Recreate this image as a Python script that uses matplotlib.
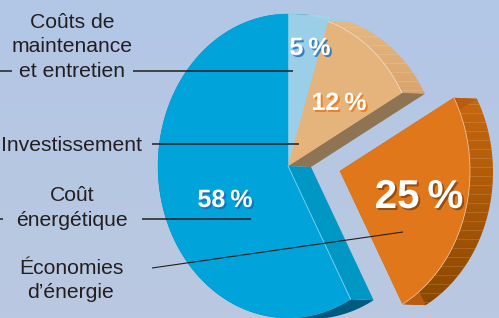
import numpy as np
import matplotlib
matplotlib.use("Agg")
import matplotlib.pyplot as plt
import matplotlib.patheffects as pe
from matplotlib.patches import Polygon

# slices, clockwise from 12 o'clock
categories = ["Coûts de\nmaintenance\net entretien", "Investissement",
              "Économies\nd\u2019énergie", "Coût\nénergétique"]
values = [5, 12, 25, 58]
pct_labels = [f"{v}\u2009%" for v in values]

# styling
top_colors = ["#9bcfe8", "#e5b47d", "#e0771b", "#00a4da"]
cut_colors = ["#86c2de", "#8e7452", "#b85c10", "#0097c5"]
rim_colors = [("#b0d8ec", "#9ccbe2"), ("#e6b882", "#d9a46c"),
              ("#c8680f", "#8c4800"), ("#007aa4", "#005a7e")]
explode = [(0, 0), (0, 0), (52, 5), (0, 0)]
pct_pos = [(310, 55), (339, 110), (419, 208), (225, 207)]
pct_size = [18, 18, 29, 18]
pct_shadow = ["#2878c0", "#ee7a1c", "#8a4a10", "#1870b8"]

CX, CY = 288, 166      # pie centre (pixels)
RX, RY = 130, 152      # top-face radii
DEPTH = np.array([23, 1])

W, H = 499, 318
fig = plt.figure(figsize=(W / 100, H / 100), dpi=100)
ax = fig.add_axes([0, 0, 1, 1])
ax.set_xlim(0, W)
ax.set_ylim(H, 0)
ax.axis("off")

# background
bg_top = np.array([178, 198, 230]) / 255
bg_bot = np.array([186, 201, 224]) / 255
g = np.linspace(0, 1, 64)[:, None, None]
ax.imshow(bg_top + (bg_bot - bg_top) * g * np.ones((1, 2, 1)),
          extent=(0, W, H, 0), aspect="auto", zorder=0)


def gradient_fill(poly, c1, c2, z):
    ys = poly[:, 1]
    c1 = np.array(matplotlib.colors.to_rgb(c1))
    c2 = np.array(matplotlib.colors.to_rgb(c2))
    t = np.linspace(0, 1, 128)[:, None, None]
    img = c1 + (c2 - c1) * t * np.ones((1, 2, 1))
    clip = Polygon(poly, closed=True, transform=ax.transData, facecolor="none", edgecolor="none")
    ax.add_patch(clip)
    im = ax.imshow(img, extent=(poly[:, 0].min(), poly[:, 0].max(), ys.max(), ys.min()),
                   aspect="auto", zorder=z)
    im.set_clip_path(clip)
    return clip


# angles
n = len(values)
fracs = np.array(values) / sum(values)
starts = 90 - 360 * np.concatenate([[0], np.cumsum(fracs)[:-1]])
ends = starts - 360 * fracs

tops = []
for i in range(n):
    ox, oy = explode[i]
    th = np.radians(np.linspace(starts[i], ends[i], 150))
    arc = np.column_stack([CX + ox + RX * np.cos(th), CY + oy - RY * np.sin(th)])
    apex = np.array([CX + ox, CY + oy])
    # rim band
    band = np.vstack([arc, (arc + DEPTH)[::-1]])
    clip = gradient_fill(band, rim_colors[i][0], rim_colors[i][1], 2)
    if i in (1, 2):
        for yy in np.arange(arc[:, 1].min() + 6, arc[:, 1].max() + 6, 9):
            ln, = ax.plot([0, W], [yy, yy], color="white", lw=0.5, alpha=0.18, zorder=2.1)
            ln.set_clip_path(clip)
    # cut faces only where the neighbour is pulled away
    for p, nb in ((arc[0], (i - 1) % n), (arc[-1], (i + 1) % n)):
        if explode[nb] == explode[i]:
            continue
        quad = np.array([apex, p, p + DEPTH, apex + DEPTH])
        ax.add_patch(Polygon(quad, closed=True, facecolor=cut_colors[i], edgecolor="none", zorder=3))
    tops.append((apex, arc))

for i, (apex, arc) in enumerate(tops):
    poly = np.vstack([apex, arc])
    ax.add_patch(Polygon(poly, closed=True, facecolor=top_colors[i], edgecolor=top_colors[i],
                         lw=0.3, zorder=4))
    if i in (1, 2):
        ax.plot(arc[:, 0], arc[:, 1], color="white", lw=0.6, alpha=0.5, zorder=4.1)
    if i == 3:
        ax.plot([apex[0], arc[0, 0]], [apex[1], arc[0, 1]], color="#7fd3f0", lw=0.6, zorder=4.1)

# percentage labels
for i, txt in enumerate(pct_labels):
    x, y = pct_pos[i]
    ax.text(x, y, txt, ha="center", va="baseline", fontsize=pct_size[i], color="white",
            fontweight="bold", family=["Liberation Sans", "DejaVu Sans"], zorder=6,
            path_effects=[pe.withSimplePatchShadow(offset=(1.4, -1.4), shadow_rgbFace=pct_shadow[i],
                                                   alpha=0.9)])

# category labels (left side)
label_x = [72, 72, 71, 72]
label_base = [28, 151, 274, 201]
for i, lab in enumerate(categories):
    for k, line in enumerate(lab.split("\n")):
        ax.text(label_x[i], label_base[i] + 24.5 * k, line, ha="center", va="baseline",
                fontsize=15.2, color="#231f20", family=["Liberation Sans", "DejaVu Sans"], zorder=6)

# leader lines
lc = "#231f20"
leaders = [([0, 12], [70.5, 70.5], 1.1), ([133, 293], [70.5, 70.5], 1.1),
           ([152, 299], [144, 144], 1.1),
           ([0, 3], [219, 219], 1.1), ([142, 251], [219, 219], 1.1),
           ([152, 403], [268, 232], 0.8)]
for xs, ys, lw in leaders:
    ax.plot(xs, ys, color=lc, lw=lw, solid_capstyle="butt", zorder=5)

fig.savefig("out.png", dpi=100)
